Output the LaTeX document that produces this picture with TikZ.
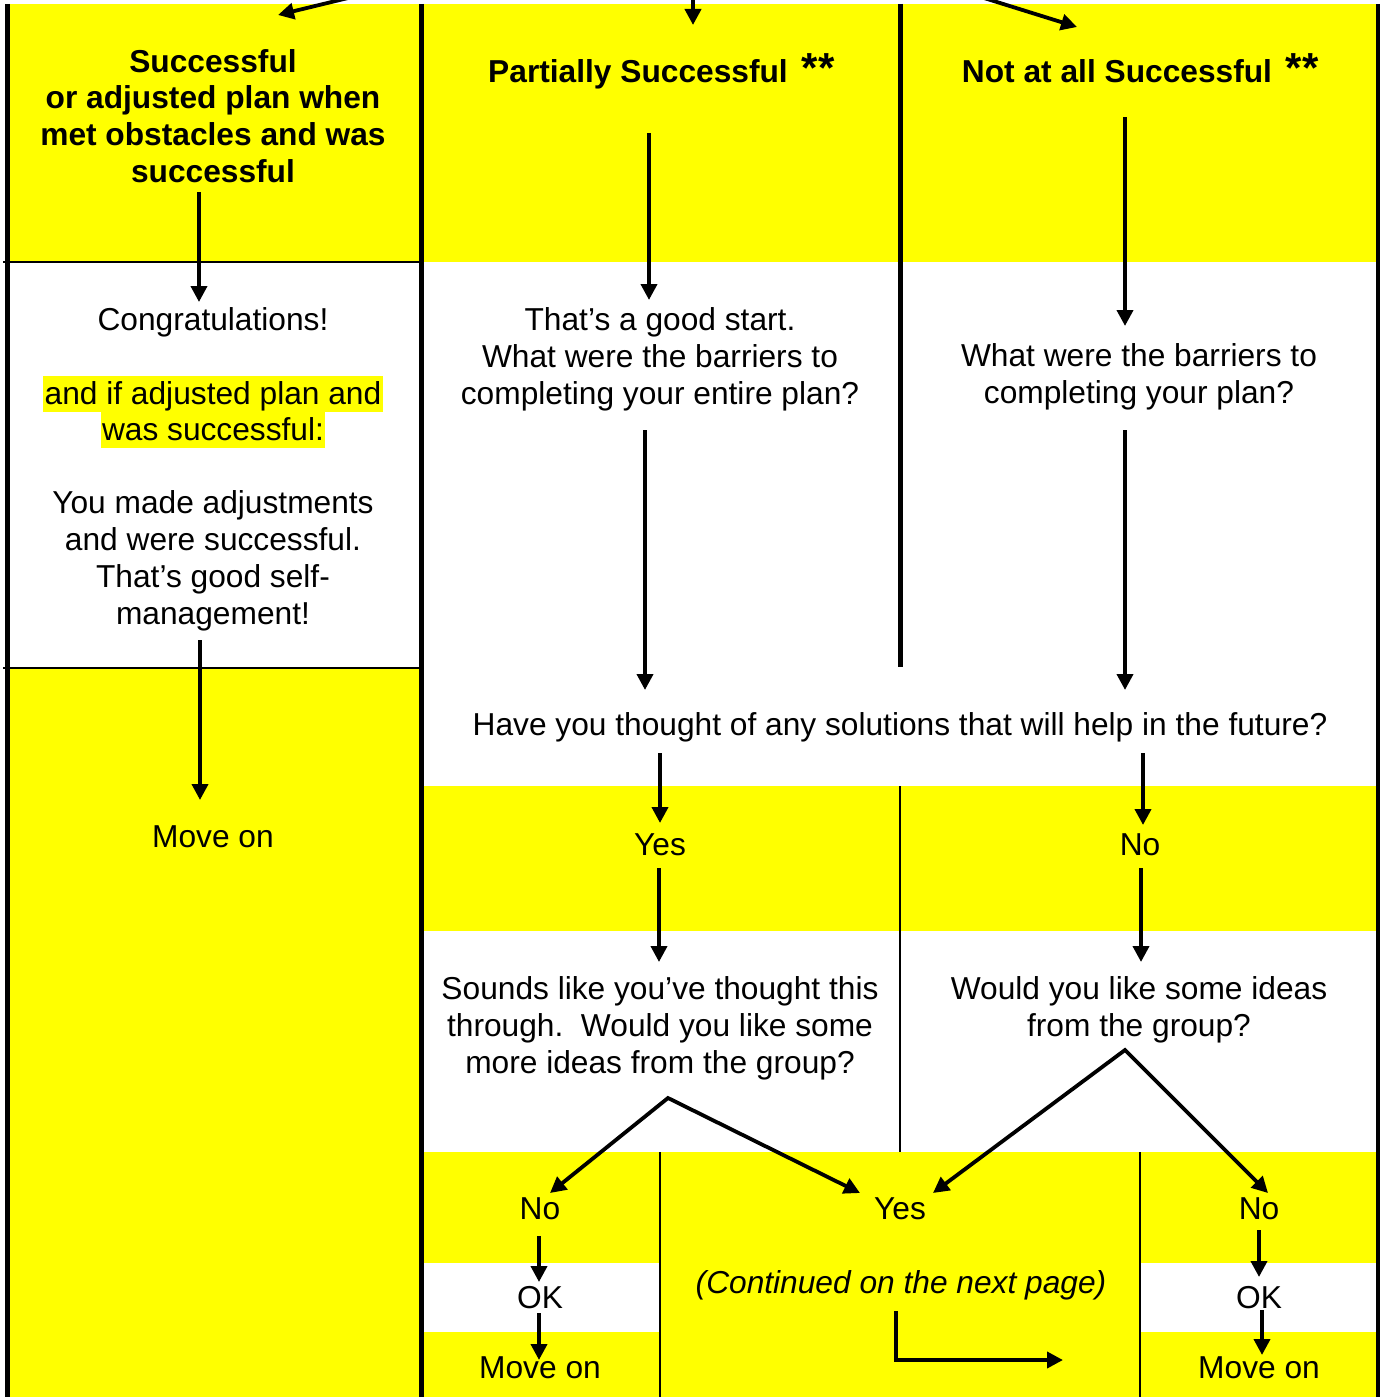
\documentclass[tikz,border=0pt]{standalone}
\usepackage{fontspec}
\setmainfont{Liberation Sans}
\usetikzlibrary{arrows.meta}
\definecolor{hy}{HTML}{FFFF00}
\begin{document}
\begin{tikzpicture}[x=1pt,y=-1pt,
  txt/.style={font=\fontsize{31.7}{37}\selectfont, inner sep=0pt, align=center},
  btxt/.style={txt, font=\fontsize{31.7}{36.7}\selectfont\bfseries},
  itxt/.style={txt, font=\fontsize{31.7}{37}\selectfont\itshape},
  stars/.style={inner sep=0pt, font=\fontsize{42}{42}\selectfont\bfseries},
  hl/.style={txt, fill=hy, inner xsep=1.5pt, text height=28.5pt, text depth=7.5pt},
  arr/.style={line width=3.8pt, -{Triangle[length=16pt,width=16pt]}},
  fork/.style={line width=3.8pt, {Triangle[length=16pt,width=16pt]}-{Triangle[length=16pt,width=16pt]}},
  heavy/.style={line width=5pt},
  rule/.style={line width=2pt},
  thinrule/.style={line width=1.3pt}
]
\useasboundingbox (0,0) rectangle (1380,1397);
\fill[white] (0,0) rectangle (1380,1397);
% yellow areas
\fill[hy] (5,4) rectangle (421,262);
\fill[hy] (5,668) rectangle (421,1397);
\fill[hy] (421,4) rectangle (1378,262);
\fill[hy] (421,786) rectangle (1378,931);
\fill[hy] (421,1152) rectangle (1378,1263);
\fill[hy] (660,1263) rectangle (1140,1332);
\fill[hy] (421,1332) rectangle (1378,1397);
% rules
\draw[heavy] (7,4) -- (7,1397);
\draw[heavy] (421,4) -- (421,1397);
\draw[heavy] (900,4) -- (900,667);
\draw[line width=4pt] (1378,4) -- (1378,1397);
\draw[rule] (3,262) -- (421,262);
\draw[rule] (3,668) -- (421,668);
\draw[thinrule] (900,786) -- (900,1152);
\draw[thinrule] (660,1152) -- (660,1397);
\draw[thinrule] (1140,1152) -- (1140,1397);

% texts
\node[btxt] (hdrL) at (213,116) {Successful\\or adjusted plan when\\met obstacles and was\\successful};
\node[btxt, anchor=base] (hdrM) at (638,82) {Partially Successful};
\node[stars, anchor=base] (starM) at (818,82) {**};
\node[btxt, anchor=base] (hdrR) at (1117,82) {Not at all Successful};
\node[stars, anchor=base] (starR) at (1302,82) {**};
\node[txt, anchor=base] (congr) at (213,330) {Congratulations!};
\node[hl, anchor=base] (hlA) at (213,404) {and if adjusted plan and};
\node[hl, anchor=base] (hlB) at (213,440) {was successful:};
\node[txt] (adj) at (213,561) {You made adjustments\\and were successful.\\That’s good self-\\management!};
\node[txt] (good) at (660,359) {That’s a good start.\\What were the barriers to\\completing your entire plan?};
\node[txt] (barr) at (1139,377) {What were the barriers to\\completing your plan?};
\node[txt, anchor=base] (mvA) at (213,847) {Move on};
\node[txt, anchor=base] (sol) at (900,735) {Have you thought of any solutions that will help in the future?};
\node[txt, anchor=base] (yesA) at (660,855) {Yes};
\node[txt, anchor=base] (noA) at (1140,855) {No};
\node[txt] (sounds) at (660,1028) {Sounds like you’ve thought this\\through.\ \ Would you like some\\more ideas from the group?};
\node[txt] (would) at (1139,1010) {Would you like some ideas\\from the group?};
\node[txt, anchor=base] (noB) at (540,1219) {No};
\node[txt, anchor=base] (yesB) at (900,1219) {Yes};
\node[txt, anchor=base] (noC) at (1259,1219) {No};
\node[txt, anchor=base] (okB) at (540,1308) {OK};
\node[txt, anchor=base] (okC) at (1259,1308) {OK};
\node[txt, anchor=base] (mvB) at (540,1378) {Move on};
\node[txt, anchor=base] (mvC) at (1259,1378) {Move on};
\node[itxt, anchor=base] (cont) at (901,1293) {(Continued on the next page)};

% arrow end points
\coordinate (inL) at (348,-2);  \coordinate (inLt) at (278,15);
\coordinate (inM) at (693,-2);  \coordinate (inMt) at (693,25);
\coordinate (inR) at (984,-2);  \coordinate (inRt) at (1077,27);
\coordinate (l1s) at (199,192); \coordinate (l1e) at (199,302);
\coordinate (m1s) at (649,133); \coordinate (m1e) at (649,300);
\coordinate (r1s) at (1125,117); \coordinate (r1e) at (1125,326);
\coordinate (m2s) at (645,430); \coordinate (m2e) at (645,690);
\coordinate (r2s) at (1125,430); \coordinate (r2e) at (1125,690);
\coordinate (l2s) at (200,640); \coordinate (l2e) at (200,800);
\coordinate (m3s) at (660,753); \coordinate (m3e) at (660,823);
\coordinate (r3s) at (1143,753); \coordinate (r3e) at (1143,825);
\coordinate (m4s) at (659,868); \coordinate (m4e) at (659,962);
\coordinate (r4s) at (1141,868); \coordinate (r4e) at (1141,962);
\coordinate (pkL) at (668,1098); \coordinate (pkLa) at (550,1193); \coordinate (pkLb) at (860,1193);
\coordinate (pkR) at (1125,1050); \coordinate (pkRa) at (933,1193); \coordinate (pkRb) at (1268,1193);
\coordinate (o1s) at (539,1236); \coordinate (o1e) at (539,1282);
\coordinate (v1s) at (539,1313); \coordinate (v1e) at (539,1360);
\coordinate (o2s) at (1259,1230); \coordinate (o2e) at (1259,1277);
\coordinate (v2s) at (1262,1310); \coordinate (v2e) at (1262,1355);
\coordinate (els) at (896,1311); \coordinate (elc) at (896,1360); \coordinate (ele) at (1063,1360);

\draw[arr] (inL) -- (inLt);
\draw[arr] (inM) -- (inMt);
\draw[arr] (inR) -- (inRt);
\draw[arr] (l1s) -- (l1e);
\draw[arr] (m1s) -- (m1e);
\draw[arr] (r1s) -- (r1e);
\draw[arr] (m2s) -- (m2e);
\draw[arr] (r2s) -- (r2e);
\draw[arr] (l2s) -- (l2e);
\draw[arr] (m3s) -- (m3e);
\draw[arr] (r3s) -- (r3e);
\draw[arr] (m4s) -- (m4e);
\draw[arr] (r4s) -- (r4e);
\draw[fork] (pkLa) -- (pkL) -- (pkLb);
\draw[fork] (pkRa) -- (pkR) -- (pkRb);
\draw[arr] (o1s) -- (o1e);
\draw[arr] (v1s) -- (v1e);
\draw[arr] (o2s) -- (o2e);
\draw[arr] (v2s) -- (v2e);
\draw[arr] (els) -- (elc) -- (ele);
\end{tikzpicture}
\end{document}
